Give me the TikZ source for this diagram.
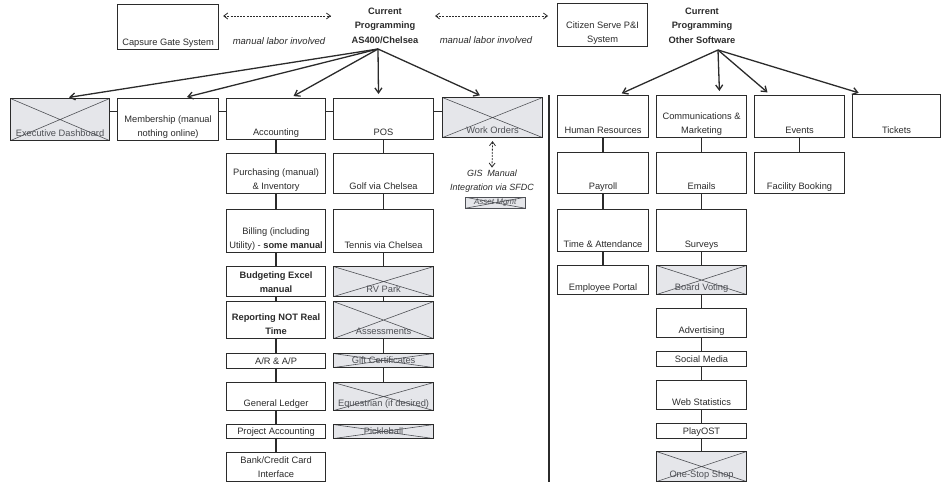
\documentclass[tikz,border=0pt]{standalone}
\usepackage{fontspec}
\setmainfont{Liberation Sans}
\usetikzlibrary{arrows.meta,calc}

\definecolor{ink}{HTML}{2B2B2B}
\definecolor{xfill}{HTML}{E5E6EA}
\definecolor{xline}{HTML}{4E5055}

\tikzset{
  box/.style={draw=ink, line width=1.1pt, fill=white, inner sep=0pt, anchor=north west},
  xbox/.style={box, fill=xfill, path picture={\draw[xline, line width=0.6pt]
      (path picture bounding box.north west) -- (path picture bounding box.south east)
      (path picture bounding box.south west) -- (path picture bounding box.north east);}},
  lbl/.style={font=\fontsize{9.3}{14}\selectfont, text=ink, align=center, anchor=south,
      inner sep=2pt, text depth=2pt},
  xlbl/.style={lbl, text=xline},
  link/.style={draw=ink, line width=1.4pt},
  feed/.style={draw=ink, line width=1.3pt, -{Straight Barb[length=5pt,width=7pt]}, shorten >=4pt},
  manual/.style={draw=ink, line width=0.8pt, dash pattern=on 2pt off 1.2pt,
      {Straight Barb[length=4pt,width=6pt]}-{Straight Barb[length=4pt,width=6pt]}},
  hdr/.style={font=\fontsize{9.3}{14.5}\selectfont\bfseries, align=center, text=ink, anchor=north, inner sep=0pt},
  note/.style={font=\fontsize{9.5}{12}\selectfont\itshape, text=ink, inner sep=0pt, align=center},
}

% \cell{name}{x}{y}{w}{h}{text}: plain box, text set at the bottom
\newcommand\cell[6]{%
  \node[box, minimum width=#4pt, minimum height=#5pt] (#1) at (#2,#3) {};
  \node[lbl] (#1-t) at (#1.south) {#6};}
% \xcell: crossed-out box
\newcommand\xcell[6]{%
  \node[xbox, minimum width=#4pt, minimum height=#5pt] (#1) at (#2,#3) {};
  \node[xlbl] (#1-t) at (#1.south) {#6};}

\begin{document}
\begin{tikzpicture}[x=1pt, y=-1pt]
\useasboundingbox (0,0) rectangle (942,482);

% ---- top row: systems and programming headers
\cell{capsure}{117}{4}{101}{45}{Capsure Gate System}
\cell{citizen}{557}{3}{90}{43}{Citizen Serve P\&I\\System}

\node[hdr] (hdrA) at (385,7.5) {Current\\Programming\\AS400/Chelsea};
\node[hdr] (hdrB) at (702,7.5) {Current\\Programming\\Other Software};

\coordinate (srcA) at (378,49);
\coordinate (srcB) at (718,50);

\coordinate (mA) at (331,16);
\coordinate (mB) at (435,16);
\draw[manual] ([shift={(4,12)}]capsure.north east) -- (mA);
\draw[manual] (mB) -- ([shift={(-9,13)}]citizen.north west);
\node[note] (noteA) at (279,41) {manual labor involved};
\node[note] (noteB) at (486,40) {manual labor involved};

% ---- AS400/Chelsea: first row
\xcell{ed}{10}{98}{99}{42}{Executive Dashboard}
\cell{memb}{117}{98}{101}{42}{Membership (manual\\nothing online)}
\cell{acc}{226}{98}{99}{41}{Accounting}
\cell{pos}{333}{98}{100}{41}{POS}
\xcell{wo}{442}{97}{100}{40}{Work Orders}

\draw[link] ([yshift=8pt]ed.east) -- ([yshift=8pt]memb.west);
\draw[link] ([yshift=8pt]memb.east) -- ([yshift=7.5pt]acc.west);
\draw[link] ([yshift=7.5pt]acc.east) -- ([yshift=7.5pt]pos.west);
\draw[link] ([yshift=7.5pt]pos.east) -- ([yshift=6pt]wo.west);

\draw[feed] (srcA) -- ([xshift=5pt]ed.north);
\draw[feed] (srcA) -- ([xshift=15pt]memb.north);
\draw[feed] (srcA) -- ([xshift=14pt]acc.north);
\draw[feed] (srcA) -- ([xshift=-5pt]pos.north);
\draw[feed] (srcA) -- ([xshift=-9pt]wo.north);

% ---- Accounting column
\cell{purch}{226}{153}{99}{40}{Purchasing (manual)\\\& Inventory}
\cell{bill}{226}{209}{99}{43}{Billing (including\\Utility) - \textbf{some manual}}
\cell{budg}{226}{266}{99}{30}{\textbf{Budgeting Excel}\\\textbf{manual}}
\cell{rep}{226}{301}{99}{37}{\textbf{Reporting NOT Real}\\\textbf{Time}}
\cell{ar}{226}{353}{99}{15}{A/R \& A/P}
\cell{gl}{226}{382}{99}{28}{General Ledger}
\cell{pa}{226}{424}{99}{14}{Project Accounting}
\cell{bank}{226}{452}{99}{29}{Bank/Credit Card\\Interface}

\foreach \a/\b in {acc/purch, purch/bill, bill/budg, budg/rep, rep/ar, ar/gl, gl/pa, pa/bank}
  \draw[link] (\a.south) -- (\b.north);

% ---- POS column
\cell{golf}{333}{153}{100}{40}{Golf via Chelsea}
\cell{tennis}{333}{209}{100}{43}{Tennis via Chelsea}
\xcell{rv}{333}{266}{100}{30}{RV Park}
\xcell{assess}{333}{301}{100}{37}{Assessments}
\xcell{gift}{333}{353}{100}{14}{Gift Certificates}
\xcell{eq}{333}{382}{100}{28}{Equestrian (if desired)}
\xcell{pick}{333}{424}{100}{14}{Pickleball}

\foreach \a/\b in {pos/golf, golf/tennis, tennis/rv, rv/assess, assess/gift, gift/eq}
  \draw[link] (\a.south) -- (\b.north);

% ---- Work orders / GIS
\node[note, font=\fontsize{9}{14}\selectfont\itshape] (gis) at (492,181) {GIS\enspace Manual\\Integration via SFDC};
\draw[manual] ([yshift=-3pt]wo.south) -- ([yshift=2pt]gis.north);
\node[xbox, draw=xline, line width=0.5pt, minimum width=60pt, minimum height=11pt] (asset) at (465,197) {};
\node[font=\fontsize{8}{10}\selectfont\itshape, text=xline, inner sep=0pt] (asset-t) at (asset.center) {Asset Mgmt};

% ---- divider
\draw[ink, line width=1.5pt] (549,95) -- (549,482);

% ---- Other software
\cell{hr}{557}{95}{91}{42}{Human Resources}
\cell{comms}{656}{95}{90}{42}{Communications \&\\Marketing}
\cell{events}{754}{95}{90}{42}{Events}
\cell{tickets}{852}{94}{88}{43}{Tickets}

\draw[feed] (srcB) -- ([xshift=15pt]hr.north);
\draw[feed] (srcB) -- ([xshift=18pt]comms.north);
\draw[feed] (srcB) -- ([xshift=-29pt]events.north);
\draw[feed] (srcB) -- ([xshift=-34pt]tickets.north);

\cell{payroll}{557}{152}{91}{41}{Payroll}
\cell{ta}{557}{209}{91}{42}{Time \& Attendance}
\cell{ep}{557}{265}{91}{29}{Employee Portal}

\cell{emails}{656}{152}{90}{41}{Emails}
\cell{surveys}{656}{209}{90}{42}{Surveys}
\xcell{board}{656}{265}{90}{29}{Board Voting}
\cell{adv}{656}{308}{90}{29}{Advertising}
\cell{social}{656}{351}{90}{15}{Social Media}
\cell{web}{656}{380}{90}{29}{Web Statistics}
\cell{play}{656}{423}{90}{15}{PlayOST}
\xcell{oss}{656}{451}{90}{30}{One-Stop Shop}

\cell{fb}{754}{152}{90}{41}{Facility Booking}

\foreach \a/\b in {hr/payroll, payroll/ta, ta/ep,
    comms/emails, emails/surveys, surveys/board, board/adv, adv/social, social/web, web/play, play/oss,
    events/fb}
  \draw[link] (\a.south) -- (\b.north);

\end{tikzpicture}
\end{document}
